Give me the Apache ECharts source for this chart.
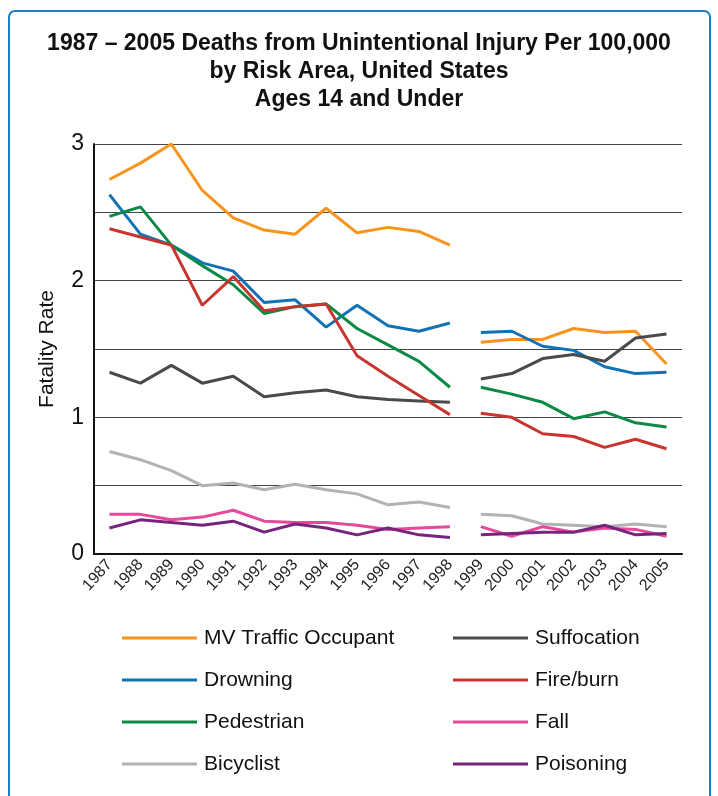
<!DOCTYPE html>
<html lang="en">
<head>
    <meta charset="UTF-8">
    <title>Unintentional Injury Deaths</title>
    <script src="https://cdn.jsdelivr.net/npm/echarts@6/dist/echarts.min.js" type="text/javascript"></script>
    <style>
        html, body { margin: 0; padding: 0; background: #fff; }
        #injury { width: 718px; height: 796px; }
    </style>
</head>
<body>
<div id="injury"></div>
</body>

<script type="text/javascript">
    var years = ['1987', '1988', '1989', '1990', '1991', '1992', '1993', '1994', '1995', '1996',
        '1997', '1998', '1999', '2000', '2001', '2002', '2003', '2004', '2005'];
    // the source changes method after 1998, so the lines break there
    var breakIndex = 12;

    var mvTraffic   = [2.74, 2.86, 3.00, 2.66, 2.46, 2.37, 2.34, 2.53, 2.35, 2.39, 2.36, 2.26, 1.55, 1.57, 1.57, 1.65, 1.62, 1.63, 1.39];
    var drowning    = [2.63, 2.34, 2.26, 2.13, 2.07, 1.84, 1.86, 1.66, 1.82, 1.67, 1.63, 1.69, 1.62, 1.63, 1.52, 1.49, 1.37, 1.32, 1.33];
    var pedestrian  = [2.47, 2.54, 2.26, 2.11, 1.97, 1.76, 1.81, 1.83, 1.65, 1.53, 1.41, 1.22, 1.22, 1.17, 1.11, 0.99, 1.04, 0.96, 0.93];
    var bicyclist   = [0.75, 0.69, 0.61, 0.50, 0.52, 0.47, 0.51, 0.47, 0.44, 0.36, 0.38, 0.34, 0.29, 0.28, 0.22, 0.21, 0.20, 0.22, 0.20];
    var suffocation = [1.33, 1.25, 1.38, 1.25, 1.30, 1.15, 1.18, 1.20, 1.15, 1.13, 1.12, 1.11, 1.28, 1.32, 1.43, 1.46, 1.41, 1.58, 1.61];
    var fireBurn    = [2.38, 2.32, 2.26, 1.82, 2.03, 1.78, 1.81, 1.83, 1.45, 1.30, 1.16, 1.02, 1.03, 1.00, 0.88, 0.86, 0.78, 0.84, 0.77];
    var fall        = [0.29, 0.29, 0.25, 0.27, 0.32, 0.24, 0.23, 0.23, 0.21, 0.18, 0.19, 0.20, 0.20, 0.13, 0.20, 0.16, 0.19, 0.18, 0.13];
    var poisoning   = [0.19, 0.25, 0.23, 0.21, 0.24, 0.16, 0.22, 0.19, 0.14, 0.19, 0.14, 0.12, 0.14, 0.15, 0.16, 0.16, 0.21, 0.14, 0.15];

    var yTicks = [0, 1, 2, 3];

    var lines = [
        {name: 'MV Traffic Occupant', data: mvTraffic, color: '#f7941d'},
        {name: 'Drowning', data: drowning, color: '#1172b6'},
        {name: 'Pedestrian', data: pedestrian, color: '#0b8a45'},
        {name: 'Bicyclist', data: bicyclist, color: '#b2b2b2'},
        {name: 'Suffocation', data: suffocation, color: '#4a4a4a'},
        {name: 'Fire/burn', data: fireBurn, color: '#c8352f'},
        {name: 'Fall', data: fall, color: '#e8489a'},
        {name: 'Poisoning', data: poisoning, color: '#78247f'}
    ];

    var font = '"Liberation Sans", Arial, sans-serif';

    // two series per risk area (before / after the break), same name so the legend merges them
    var series = [];
    lines.forEach(function (l) {
        var before = l.data.map(function (v, i) { return i < breakIndex ? v : null; });
        var after = l.data.map(function (v, i) { return i >= breakIndex ? v : null; });
        [before, after].forEach(function (part) {
            series.push({
                name: l.name,
                type: 'line',
                data: part,
                symbol: 'none',
                connectNulls: false,
                lineStyle: {color: l.color, width: 3},
                itemStyle: {color: l.color}
            });
        });
    });

    var legendBase = {
        orient: 'vertical',
        icon: 'rect',
        itemWidth: 75,
        itemHeight: 3,
        itemGap: 18,
        textStyle: {fontFamily: font, fontSize: 21, color: '#111', lineHeight: 24, padding: [0, 0, 0, 2]}
    };

    var injury = echarts.init(document.getElementById('injury'));
    injury.setOption({
        animation: false,
        textStyle: {fontFamily: font},
        title: {
            text: '1987 – 2005 Deaths from Unintentional Injury Per 100,000\nby Risk Area, United States\nAges 14 and Under',
            left: 'center',
            top: 25,
            textStyle: {fontFamily: font, fontSize: 23, fontWeight: 'bold', color: '#111', lineHeight: 28}
        },
        graphic: [{
            type: 'rect',
            z: -10,
            shape: {x: 9, y: 11, width: 701, height: 820, r: 6},
            style: {fill: 'none', stroke: '#1a7dc0', lineWidth: 2}
        }],
        legend: [
            Object.assign({}, legendBase, {left: 117, top: 621, data: ['MV Traffic Occupant', 'Drowning', 'Pedestrian', 'Bicyclist']}),
            Object.assign({}, legendBase, {left: 448, top: 621, data: ['Suffocation', 'Fire/burn', 'Fall', 'Poisoning']})
        ],
        grid: {left: 94, right: 36, top: 144, bottom: 242},
        xAxis: {
            type: 'category',
            data: years,
            boundaryGap: true,
            axisLine: {lineStyle: {color: '#111', width: 2}},
            axisTick: {inside: true, alignWithLabel: true, length: 8, lineStyle: {color: '#111', width: 1.5}},
            axisLabel: {rotate: 48, fontSize: 16, color: '#222', margin: 8, interval: 0}
        },
        yAxis: {
            type: 'value',
            min: 0,
            max: 3,
            interval: 0.5,
            name: 'Fatality Rate',
            nameLocation: 'middle',
            nameGap: 36,
            nameTextStyle: {fontSize: 21, color: '#111'},
            axisLine: {show: true, lineStyle: {color: '#111', width: 2}},
            axisTick: {show: false},
            splitLine: {lineStyle: {color: '#444', width: 1}},
            axisLabel: {
                fontSize: 23,
                color: '#111',
                margin: 10,
                formatter: function (v) { return yTicks.indexOf(v) >= 0 ? String(v) : ''; }
            }
        },
        series: series
    });
</script>
</html>
